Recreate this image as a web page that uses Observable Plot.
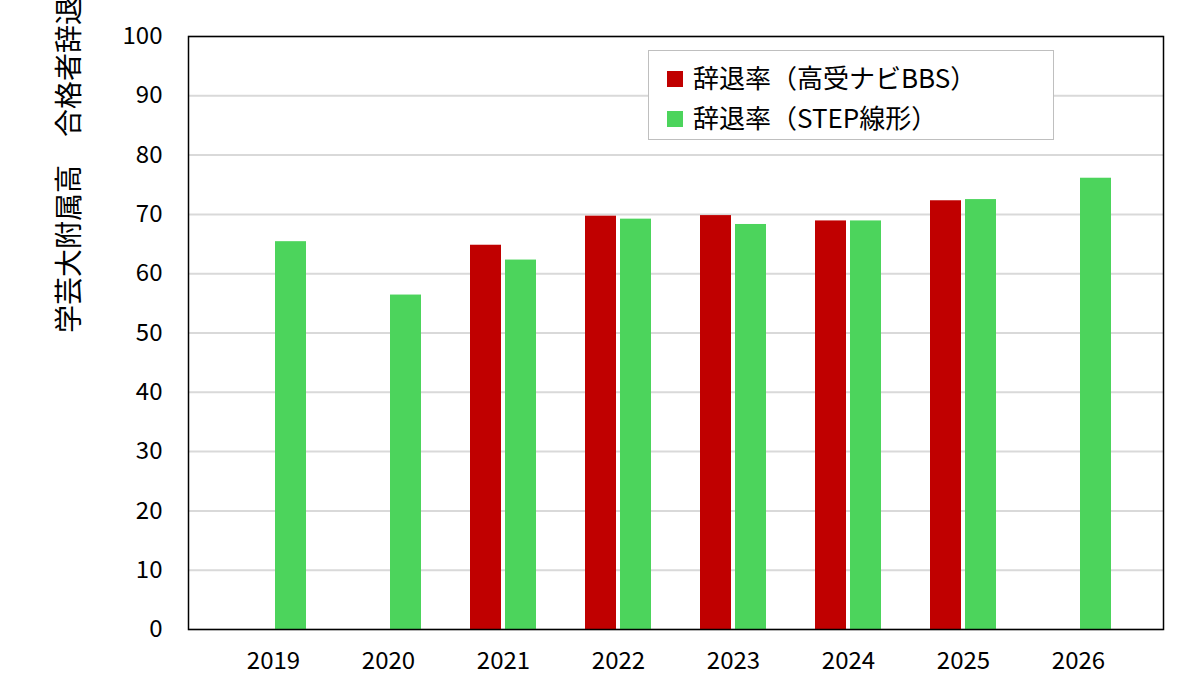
<!DOCTYPE html>
<html><head><meta charset="utf-8">
<script src="https://cdn.jsdelivr.net/npm/d3@7"></script>
<script src="https://cdn.jsdelivr.net/npm/@observablehq/plot@0.6"></script>
<style>
body{margin:0;background:#fff;font-family:"Noto Sans CJK JP","Noto Sans",sans-serif;}
#wrap{position:relative;width:1200px;height:697px;}
#legend{position:absolute;left:648px;top:50px;width:406px;height:90px;border:1px solid #bfbfbf;background:#fff;box-sizing:border-box;padding:6px 0 0 18px;font-size:26px;line-height:40px;color:#000;}
#legend span.sw{display:inline-block;width:16px;height:16px;margin-right:10px;vertical-align:middle;position:relative;top:-2px;}
</style></head><body>
<div id="wrap"></div>
<script>
const years = ["2019","2020","2021","2022","2023","2024","2025","2026"];
const seriesNames = ["辞退率（高受ナビBBS）","辞退率（STEP線形）"];
const bbs  = [null,null,64.8,69.7,69.8,68.9,72.3,null];
const step = [65.4,56.4,62.3,69.2,68.3,68.9,72.5,76.1];
const colors = ["#c00000","#4cd45c"];
const yTicks = [0,10,20,30,40,50,60,70,80,90,100];

const bbsData = years.map((y,i)=>({year:y, v:bbs[i]})).filter(d=>d.v!=null);
const stepData = years.map((y,i)=>({year:y, v:step[i]})).filter(d=>d.v!=null);

const chart = Plot.plot({
  width:1200, height:697,
  marginLeft:188, marginRight:37, marginTop:36, marginBottom:68,
  style:{fontFamily:'"Noto Sans CJK JP","Noto Sans",sans-serif', fontSize:"24px", color:"#000"},
  x:{domain:years, padding:0.43, label:null},
  y:{domain:[0,100], ticks:yTicks, label:null},
  marks:[
    Plot.gridY(yTicks,{stroke:"#d9d9d9", strokeOpacity:1, strokeWidth:2}),
    Plot.barY(bbsData,{x:"year", y:"v", fill:colors[0], insetRight:35}),
    Plot.barY(stepData,{x:"year", y:"v", fill:colors[1], insetLeft:35}),
    Plot.axisY(yTicks,{tickSize:0, tickPadding:26, fontSize:24, label:null}),
    Plot.axisX({tickSize:0, tickPadding:22, fontSize:24, label:null}),
    Plot.frame({stroke:"#000", strokeWidth:1.5}),
    Plot.text(["学芸大附属高　合格者辞退率（%）"],{frameAnchor:"left", rotate:-90, dx:-118, fontSize:28})
  ]
});
const wrap = document.getElementById("wrap");
wrap.appendChild(chart);
const lg = document.createElement("div");
lg.id="legend";
lg.innerHTML = seriesNames.map((n,i)=>`<div><span class="sw" style="background:${colors[i]}"></span>${n}</div>`).join("");
wrap.appendChild(lg);
</script></body></html>
